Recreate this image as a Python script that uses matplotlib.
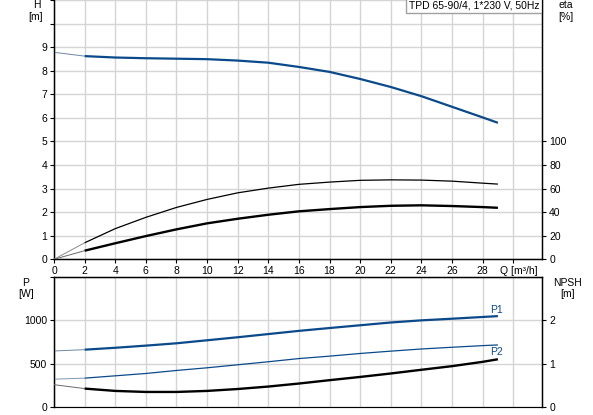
import matplotlib
matplotlib.use("Agg")
import matplotlib.pyplot as plt
import matplotlib.transforms as mtransforms
import numpy as np

plt.rcParams['font.family'] = ['Liberation Sans', 'DejaVu Sans']
plt.rcParams['font.size'] = 7.5

# ---- data ----
Q = [0, 2, 4, 6, 8, 10, 12, 14, 16, 18, 20, 22, 24, 26, 28, 29]
H = [8.78, 8.62, 8.56, 8.53, 8.51, 8.49, 8.43, 8.34, 8.16, 7.95, 7.65, 7.31, 6.92, 6.47, 6.02, 5.79]
eta_pump = [0, 14.0, 26.0, 35.6, 44.0, 50.8, 56.4, 60.4, 63.6, 65.5, 67.0, 67.4, 67.2, 66.3, 64.6, 63.8]
eta_total = [0, 7.3, 13.6, 19.7, 25.4, 30.5, 34.4, 37.8, 40.7, 42.6, 44.3, 45.4, 45.8, 45.2, 44.3, 43.7]
P1 = [646, 661, 683, 708, 735, 770, 805, 842, 879, 912, 944, 976, 1001, 1020, 1040, 1050]
P2 = [319, 331, 358, 385, 420, 451, 486, 521, 558, 586, 617, 644, 669, 689, 708, 716]
NPSH = [0.51, 0.42, 0.366, 0.342, 0.342, 0.366, 0.41, 0.467, 0.537, 0.615, 0.69, 0.77, 0.856, 0.94, 1.04, 1.10]

x_ticks = [0, 2, 4, 6, 8, 10, 12, 14, 16, 18, 20, 22, 24, 26, 28, 30]
x_labels = ['0', '2', '4', '6', '8', '10', '12', '14', '16', '18', '20', '22', '24', '26', '28', 'Q [m³/h]']
H_ticks = [0, 1, 2, 3, 4, 5, 6, 7, 8, 9, 10, 11]
H_labels = ['0', '1', '2', '3', '4', '5', '6', '7', '8', '9', '', '']
eta_ticks = [0, 20, 40, 60, 80, 100]
P_ticks = [0, 500, 1000, 1500]
P_labels = ['0', '500', '1000', '']
NPSH_ticks = [0, 1, 2]
title = "TPD 65-90/4, 1*230 V, 50Hz"

BLUE = '#0b4a8a'
GRID = '#d4d4d4'
W, Hh = 593, 415
fig = plt.figure(figsize=(W / 100, Hh / 100), dpi=100)

left = 54 / W
width = 488.3 / W
ax = fig.add_axes([left, 1 - 259.3 / Hh, width, 259.3 / Hh])
axb = fig.add_axes([left, 1 - 406.7 / Hh, width, (406.7 - 277.3) / Hh])

xmax = 31.9
n_lo = 2  # first segment (0..2) drawn thin


def split_plot(a, x, y, color, lw, lo_color):
    a.plot(x[:n_lo], y[:n_lo], color=lo_color, lw=0.7, solid_capstyle='butt', zorder=3)
    a.plot(x[n_lo - 1:], y[n_lo - 1:], color=color, lw=lw, solid_capstyle='butt',
           solid_joinstyle='round', zorder=3)


# ---- top axes ----
ax.set_xlim(0, xmax)
ax.set_ylim(0, 11)
ax.set_xticks(x_ticks)
ax.set_xticklabels(x_labels)
ax.set_yticks(H_ticks)
ax.set_yticklabels(H_labels)
ax.grid(True, color=GRID, lw=1.0)
ax.set_axisbelow(True)
ax.spines['top'].set_visible(False)
for s in ['left', 'right', 'bottom']:
    ax.spines[s].set_color('black')
    ax.spines[s].set_linewidth(1.0)
ax.tick_params(length=3, width=0.8, pad=2, colors='black')

# shift the "Q [m³/h]" label a little to the right, as in the reference
qlab = ax.get_xticklabels()[-1]
qlab.set_transform(qlab.get_transform() +
                   mtransforms.ScaledTranslation(6 / 100, 0, fig.dpi_scale_trans))

split_plot(ax, Q, H, BLUE, 1.6, '#6f86a3')

axr = ax.twinx()
axr.set_ylim(0, 220)
axr.set_yticks(eta_ticks)
axr.spines['top'].set_visible(False)
axr.tick_params(length=3, width=0.8, pad=2, colors='black')
split_plot(axr, Q, eta_pump, 'black', 0.9, '#8a8a8a')
split_plot(axr, Q, eta_total, 'black', 1.7, '#6a6a6a')

ax.text(0.994, 0.999, title, transform=ax.transAxes, ha='right', va='top', fontsize=7.5,
        bbox=dict(boxstyle='square,pad=0.28', fc='white', ec='#a0a0a0', lw=1.0), zorder=5)

# ---- bottom axes ----
axb.set_xlim(0, xmax)
axb.set_ylim(0, 1500)
axb.set_xticks(x_ticks)
axb.set_xticklabels([])
axb.tick_params(axis='x', length=0)
axb.set_yticks(P_ticks)
axb.set_yticklabels(P_labels)
axb.grid(True, color=GRID, lw=1.0)
axb.set_axisbelow(True)
for s in ['left', 'right', 'top']:
    axb.spines[s].set_color('black')
    axb.spines[s].set_linewidth(1.0)
axb.spines['bottom'].set_color('#9a9a9a')
axb.tick_params(axis='y', length=3, width=0.8, pad=2, colors='black')

split_plot(axb, Q, P1, BLUE, 1.6, '#6f86a3')
split_plot(axb, Q, P2, BLUE, 0.9, '#8096b0')

axbr = axb.twinx()
axbr.set_ylim(0, 3)
axbr.set_yticks(NPSH_ticks)
axbr.tick_params(length=3, width=0.8, pad=2, colors='black')
split_plot(axbr, Q, NPSH, 'black', 1.7, '#6a6a6a')

axb.text(28.9, 1119, 'P1', color=BLUE, ha='center', va='center', fontsize=7.5)
axb.text(28.9, 634, 'P2', color=BLUE, ha='center', va='center', fontsize=7.5)

# ---- axis unit labels ----
def ftext(x, y, s):
    fig.text(x / W, 1 - y / Hh, s, ha='center', va='center', fontsize=7.5)

ftext(36.5, 5, 'H')
ftext(36, 16.7, '[m]')
ftext(566, 5, 'eta')
ftext(566, 17, '[%]')
ftext(26, 282.7, 'P')
ftext(26, 294.3, '[W]')
ftext(567.7, 282.7, 'NPSH')
ftext(567.7, 294.3, '[m]')

fig.savefig('out.png', dpi=100)
